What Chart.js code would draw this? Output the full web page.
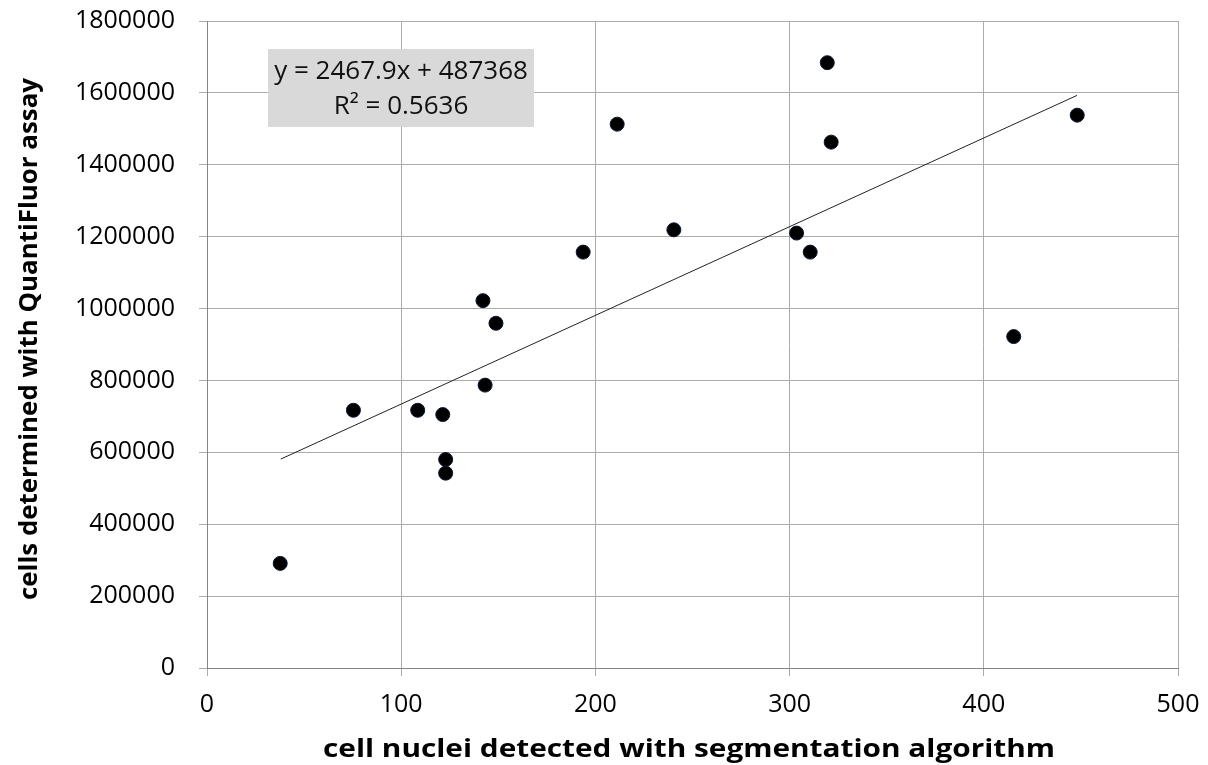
<!DOCTYPE html>
<html>
<head>
<meta charset="utf-8">
<script src="https://cdn.jsdelivr.net/npm/chart.js@4.4.1/dist/chart.umd.min.js"></script>
<style>
  html, body { margin: 0; padding: 0; background: #fff; }
</style>
</head>
<body>
<canvas id="chart" width="1208" height="765"></canvas>
<script>
// values
const nucleiCounts = [37.7, 75.4, 108.5, 121.4, 122.9, 122.9, 142.1, 143.2, 148.8, 193.7, 211.2, 240.4, 303.6, 310.6, 319.4, 321.4, 415.4, 448.1]
const quantiFluorCells = [291000, 717000, 717000, 705000, 580000, 542000, 1022000, 787000, 959000, 1157000, 1513000, 1219000, 1210000, 1157000, 1684000, 1463000, 922000, 1538000]

// linear trend line, end points as drawn in the reference
const trendX = [38, 448]
const trendY = [581200, 1593000]

const equationLines = ['y = 2467.9x + 487368', 'R\u00b2 = 0.5636']
const xTitle = 'cell nuclei detected with segmentation algorithm'
const yTitle = 'cells determined with QuantiFluor assay'

const xMax = 500, xStep = 100
const yMax = 1800000, yStep = 200000

const tickFont = { family: "'Open Sans'", size: 25 }

// draw text centred at (x, y), squeezed/stretched to a given width
function fitText(ctx, text, x, y, width, angle) {
    const w = ctx.measureText(text).width
    ctx.save()
    ctx.translate(x, y)
    ctx.rotate(angle)
    ctx.scale(width / w, 1)
    ctx.fillText(text, 0, 0)
    ctx.restore()
}

// equation box + axis titles
const overlay = {
    id: 'overlay',
    afterDraw(chart) {
        const ctx = chart.ctx
        const area = chart.chartArea
        ctx.save()

        // trend line label
        const bx = area.left + 61, by = area.top + 28
        ctx.fillStyle = '#d9d9d9'
        ctx.fillRect(bx, by, 266, 78)
        ctx.fillStyle = '#111'
        ctx.font = "26px 'Open Sans'"
        ctx.textAlign = 'center'
        ctx.textBaseline = 'middle'
        ctx.fillText(equationLines[0], bx + 133, by + 23)
        ctx.fillText(equationLines[1], bx + 133, by + 58)

        // axis titles
        ctx.font = "bold 25px 'Open Sans'"
        ctx.fillStyle = '#000'
        fitText(ctx, xTitle, 689, 750, 732, 0)
        fitText(ctx, yTitle, 30, 339, 522, -Math.PI / 2)
        ctx.restore()
    }
}

// keep the tick padding from pushing the plot area inwards
function noEdgePadding(s) {
    s.paddingTop = 0
    s.paddingBottom = 0
    s.paddingLeft = 0
    s.paddingRight = 0
}

new Chart(document.getElementById('chart'), {
    type: 'scatter',
    data: {
        datasets: [{
            label: 'cells',
            data: nucleiCounts.map((x, i) => ({ x: x, y: quantiFluorCells[i] })),
            pointRadius: 7,
            pointBackgroundColor: '#000',
            pointBorderColor: '#0b1630',
            pointBorderWidth: 1,
            order: 1
        }, {
            label: 'trend',
            type: 'line',
            data: trendX.map((x, i) => ({ x: x, y: trendY[i] })),
            borderColor: '#222',
            borderWidth: 1,
            pointRadius: 0,
            fill: false,
            order: 2
        }]
    },
    options: {
        responsive: false,
        animation: false,
        devicePixelRatio: 1,
        layout: { autoPadding: false, padding: { top: 21, right: 30, bottom: 0, left: 0 } },
        plugins: { legend: { display: false }, tooltip: { enabled: false } },
        scales: {
            x: {
                type: 'linear',
                min: 0,
                max: xMax,
                afterFit: s => { s.height = 97; noEdgePadding(s) },
                ticks: { stepSize: xStep, font: tickFont, color: '#000', padding: 14 },
                grid: { color: '#ababab', tickLength: 8 },
                border: { color: '#858585' }
            },
            y: {
                min: 0,
                max: yMax,
                afterFit: s => { s.width = 207; noEdgePadding(s) },
                ticks: { stepSize: yStep, font: tickFont, color: '#000', padding: 24, callback: v => String(v) },
                grid: { color: '#ababab', tickLength: 8 },
                border: { color: '#858585' }
            }
        }
    },
    plugins: [overlay]
})
</script>
</body>
</html>
